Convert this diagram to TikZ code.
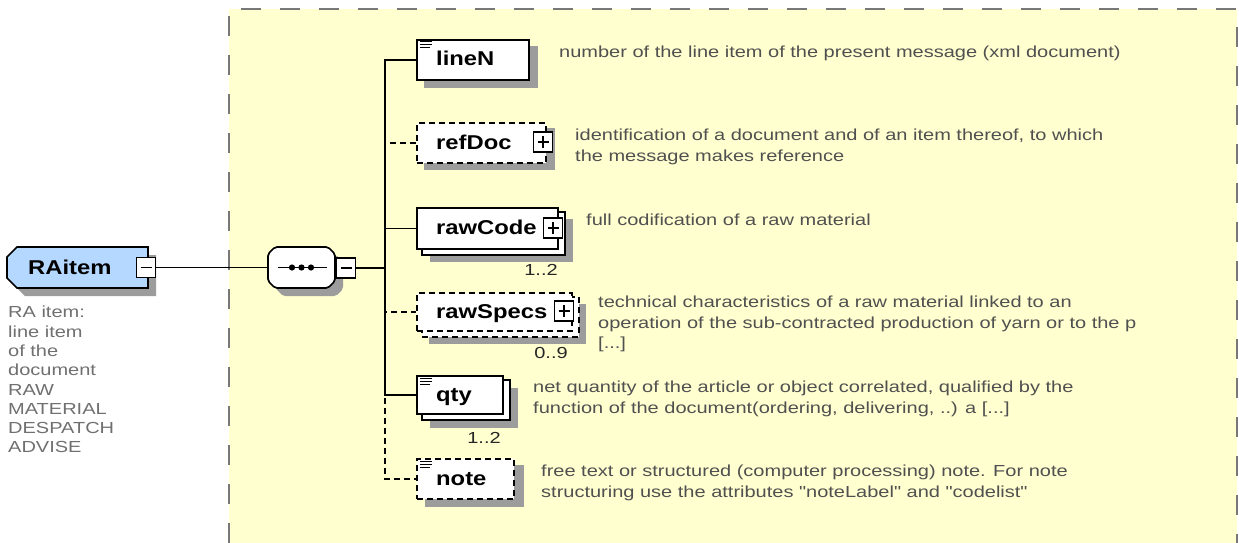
\documentclass[tikz,border=0pt]{standalone}
\usepackage{fontspec}
\setmainfont{Liberation Sans}
\newfontfamily\descfont[FakeStretch=1.25]{Liberation Sans}
\newfontfamily\labfont[FakeStretch=1.19]{Liberation Sans}
\usetikzlibrary{calc}
\definecolor{yel}{RGB}{255,255,208}
\definecolor{shad}{RGB}{156,156,156}
\definecolor{rablue}{RGB}{180,216,255}
\definecolor{descc}{RGB}{80,80,80}
\definecolor{radesc}{RGB}{112,112,112}
\definecolor{bordc}{RGB}{120,120,120}
\pgfdeclarelayer{bg}
\pgfdeclarelayer{shadow}
\pgfdeclarelayer{back}
\pgfsetlayers{bg,shadow,back,main}
\newcommand\shd[3]{\fill[shad] ([shift={(#2pt,-#3pt)}]#1.north west) rectangle ([shift={(#2pt,-#3pt)}]#1.south east);}
\newcommand\backbox[2]{\draw[ln,fill=white,#2] ([shift={(6pt,-5pt)}]#1.north west) rectangle ([shift={(6pt,-5pt)}]#1.south east);}
\newcommand\icon[1]{\draw[line width=1pt] ([shift={(4pt,-3pt)}]#1.north west) -- +(12pt,0pt) ([shift={(4pt,-6pt)}]#1.north west) -- +(12pt,0pt) ([shift={(4pt,-9pt)}]#1.north west) -- +(10pt,0pt);}
\begin{document}
\begin{tikzpicture}[x=1pt,y=-1pt,
  ln/.style={line width=1.7pt, draw=black},
  opt/.style={dash pattern=on 6pt off 4pt},
  box/.style={ln, fill=white, rectangle, inner sep=0pt, anchor=north west},
  ghost/.style={rectangle, inner sep=0pt, outer sep=0pt},
  lab/.style={font=\labfont\bfseries\fontsize{20}{22}\selectfont, anchor=base west, inner sep=0pt},
  desc/.style={font=\descfont\fontsize{16}{20.5}\selectfont, text=descc, anchor=north west, align=left, inner sep=0pt},
  radescs/.style={font=\descfont\fontsize{16}{19.3}\selectfont, text=radesc, anchor=north west, align=left, inner sep=0pt},
  mult/.style={font=\descfont\fontsize{16}{18}\selectfont, text=black!85, inner sep=0pt},
  pm/.style={draw, fill=white, line width=1.3pt, minimum width=19pt, minimum height=20pt, inner sep=0pt},
  plusbox/.style={pm, path picture={\draw[line width=1.4pt] ([xshift=4pt]path picture bounding box.west) -- ([xshift=-4pt]path picture bounding box.east) ([yshift=-4pt]path picture bounding box.north) -- ([yshift=4pt]path picture bounding box.south);}},
  minusbox/.style={pm, path picture={\draw[line width=1.4pt] ([xshift=4pt]path picture bounding box.west) -- ([xshift=-4pt]path picture bounding box.east);}},
  conn/.style={ln},
  optconn/.style={ln, opt}
]
\useasboundingbox (0,0) rectangle (1239,543);
\begin{pgfonlayer}{bg}
  \fill[white] (0,0) rectangle (1239,543);
  \fill[yel] (229,9) rectangle (1237,543);
  \draw[bordc, line width=2pt, dash pattern=on 20pt off 19pt] (229,543) -- (229,9) -- (1237,9) -- (1237,543);
\end{pgfonlayer}

% root element
\node[ghost, minimum width=141pt, minimum height=41pt] (RA) at (77.5,267.5) {};
\begin{pgfonlayer}{shadow}
  \fill[shad] (25,255) -- (156,255) -- (156,296) -- (25,296) -- (15,286) -- (15,265) -- cycle;
  \fill[shad, rounded corners=2pt] (283,255) -- (336,255) -- (343,262) -- (343,289) -- (336,296) -- (283,296) -- (276,289) -- (276,262) -- cycle;
\end{pgfonlayer}
\begin{pgfonlayer}{back}
  \filldraw[ln, fill=rablue] (17,247) -- (148,247) -- (148,288) -- (17,288) -- (7,278) -- (7,257) -- cycle;
  \filldraw[ln, fill=white, rounded corners=2pt] (275,247) -- (328,247) -- (335,254) -- (335,281) -- (328,288) -- (275,288) -- (268,281) -- (268,254) -- cycle;
\end{pgfonlayer}
\node[lab] (RAl) at (28,274.5) {RAitem};
\node[minusbox] (RAm) at (146,267.5) {};
\node[radescs] (RAd) at (8,306) {RA item:\\line item\\of the\\document\\RAW\\MATERIAL\\DESPATCH\\ADVISE};

% sequence compositor
\node[ghost, minimum width=67pt, minimum height=41pt] (seq) at (301.5,267.5) {};
\draw[line width=1.4pt] ([xshift=-24pt]seq.center) -- ([xshift=25pt]seq.center);
\fill (seq.center) circle (3.1pt);
\fill ([xshift=-9.5pt]seq.center) circle (3.1pt);
\fill ([xshift=9.5pt]seq.center) circle (3.1pt);
\node[minusbox] (seqm) at (346,268) {};
\coordinate (tr) at (385,268);

% children
\node[box, minimum width=112pt, minimum height=40pt] (lineN) at (416,39) {};
\node[box, opt, minimum width=129pt, minimum height=40pt] (refDoc) at (416,122) {};
\node[box, minimum width=141pt, minimum height=41pt] (rawCode) at (416,207) {};
\node[box, opt, minimum width=155pt, minimum height=38pt] (rawSpecs) at (416,292) {};
\node[box, minimum width=86pt, minimum height=38pt] (qty) at (416,375) {};
\node[box, opt, minimum width=97pt, minimum height=40pt] (note) at (416,458) {};

\begin{pgfonlayer}{shadow}
  \shd{lineN}{8}{7}
  \shd{refDoc}{8}{6}
  \shd{rawCode}{14}{12}
  \shd{rawSpecs}{13}{12}
  \shd{qty}{14}{13}
  \shd{note}{9}{7}
\end{pgfonlayer}
\begin{pgfonlayer}{back}
  \backbox{rawCode}{}
  \backbox{rawSpecs}{opt}
  \backbox{qty}{}
\end{pgfonlayer}

\icon{lineN}
\icon{qty}
\icon{note}

\node[lab] (lineNl) at (436,66) {lineN};
\node[lab] (refDocl) at (436,149) {refDoc};
\node[lab] (rawCodel) at (436,234.5) {rawCode};
\node[lab] (rawSpecsl) at (436,318) {rawSpecs};
\node[lab] (qtyl) at (436,401) {qty};
\node[lab] (notel) at (436,485) {note};

\node[plusbox] (refDocp) at (543,142) {};
\node[plusbox] (rawCodep) at (553,228) {};
\node[plusbox] (rawSpecsp) at (564,311) {};

\node[mult] (m1) at (541,270) {1..2};
\node[mult] (m2) at (551,353) {0..9};
\node[mult] (m3) at (484,438) {1..2};

% connectors
\draw[conn] (RAm.east) -- (seq.west);
\draw[conn] (seqm.east) -- (tr);
\draw[optconn] (tr) |- (note.west);
\draw[optconn] (tr) |- (refDoc.west);
\draw[optconn] (tr) |- (rawSpecs.west);
\draw[conn] (tr) |- (lineN.west);
\draw[conn] (tr) |- (rawCode.west);
\draw[conn] (tr) |- (qty.west);

% descriptions
\node[desc] (d1) at (559,46) {number of the line item of the present message (xml document)};
\node[desc] (d2) at (575,129) {identification of a document and of an item thereof, to which\\the message makes reference};
\node[desc] (d3) at (586,214) {full codification of a raw material};
\node[desc] (d4) at (598,296) {technical characteristics of a raw material linked to an\\operation of the sub-contracted production of yarn or to the p\\{[...]}};
\node[desc] (d5) at (533,381) {net quantity of the article or object correlated, qualified by the\\function of the document(ordering, delivering, ..) a [...]};
\node[desc] (d6) at (541,465) {free text or structured (computer processing) note. For note\\structuring use the attributes "noteLabel" and "codelist"};
\end{tikzpicture}
\end{document}
